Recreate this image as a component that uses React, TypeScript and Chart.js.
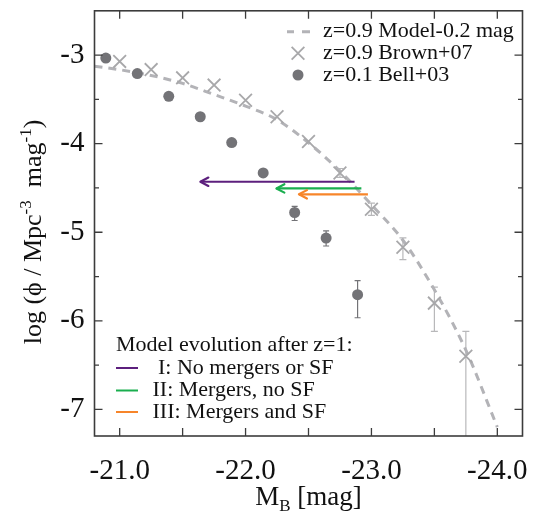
import React, { useEffect, useRef } from "react";
import { Chart, registerables } from "chart.js";
Chart.register(...registerables);

// ---- Data ----
const modelMag = [-20.8, -21.0, -21.25, -21.5, -21.75, -22.0, -22.25, -22.5, -22.75, -23.0, -23.25, -23.5, -23.75, -24.0];
const modelPhi = [-3.125, -3.165, -3.23, -3.32, -3.445, -3.575, -3.73, -3.99, -4.31, -4.69, -5.09, -5.65, -6.33, -7.2];

const brownMag = [-21.0, -21.25, -21.5, -21.75, -22.0, -22.25, -22.5, -22.75, -23.0, -23.25, -23.5, -23.75];
const brownPhi = [-3.071, -3.164, -3.257, -3.339, -3.51, -3.696, -3.976, -4.33, -4.74, -5.17, -5.8, -6.4];
const brownErrHi = [0, 0, 0, 0, 0, 0, 0, 0.05, 0.07, 0.106, 0.18, 0.28];
const brownErrLo = [0, 0, 0, 0, 0, 0, 0, 0.05, 0.07, 0.14, 0.32, 1.3];

const bellMag = [-20.89, -21.14, -21.39, -21.64, -21.89, -22.14, -22.39, -22.64, -22.89];
const bellPhi = [-3.034, -3.209, -3.466, -3.696, -3.987, -4.33, -4.777, -5.065, -5.705];
const bellErrHi = [0, 0, 0, 0, 0, 0, 0.07, 0.08, 0.16];
const bellErrLo = [0, 0, 0, 0, 0, 0, 0.09, 0.09, 0.26];

const arrowFrom = [-22.866, -22.92, -22.972];
const arrowTo = [-21.641, -22.245, -22.424];
const arrowPhi = [-4.43, -4.505, -4.572];
const arrowLabels = ["I: No mergers or SF", "II: Mergers, no SF", "III: Mergers and SF"];
const arrowColors = ["#5c1f7d", "#1aae4f", "#f7852a"];

const xTickVals = [-21.0, -21.5, -22.0, -22.5, -23.0, -23.5, -24.0];
const yTickVals = [-7.0, -6.5, -6.0, -5.5, -5.0, -4.5, -4.0, -3.5, -3.0];

const legendLabels = ["z=0.9 Model-0.2 mag", "z=0.9 Brown+07", "z=0.1 Bell+03"];
const lowerLegendTitle = "Model evolution after z=1:";

const FONT = '"Liberation Serif", "Times New Roman", Times, serif';
const MODEL_COLOR = "#b3b3b7";
const BROWN_COLOR = "#a8a8aa";
const BELL_COLOR = "#737377";
const FRAME_COLOR = "#3c3c3c";
const CROSS_R = 9;

const decorPlugin = {
  id: "decor",
  beforeDatasetsDraw(chart: any) {
    const { ctx, chartArea: a, scales } = chart;
    const x = scales.x, y = scales.y;
    ctx.save();
    ctx.beginPath();
    ctx.rect(a.left, a.top, a.right - a.left, a.bottom - a.top);
    ctx.clip();
    const drawErr = (mags: number[], phis: number[], hi: number[], lo: number[], color: string, cap: number) => {
      ctx.strokeStyle = color;
      ctx.lineWidth = 1.2;
      mags.forEach((m, i) => {
        if (!hi[i] && !lo[i]) return;
        const px = x.getPixelForValue(m);
        const pt = y.getPixelForValue(phis[i] + hi[i]);
        const pb = y.getPixelForValue(phis[i] - lo[i]);
        ctx.beginPath();
        ctx.moveTo(px, pt);
        ctx.lineTo(px, pb);
        ctx.moveTo(px - cap, pt);
        ctx.lineTo(px + cap, pt);
        ctx.moveTo(px - cap, pb);
        ctx.lineTo(px + cap, pb);
        ctx.stroke();
      });
    };
    drawErr(brownMag, brownPhi, brownErrHi, brownErrLo, "#b8b8ba", 3.5);
    drawErr(bellMag, bellPhi, bellErrHi, bellErrLo, BELL_COLOR, 3);
    ctx.restore();
  },
  afterDatasetsDraw(chart: any) {
    const { ctx, scales } = chart;
    const x = scales.x, y = scales.y;
    ctx.save();
    arrowTo.forEach((m, i) => {
      const px = x.getPixelForValue(m);
      const py = y.getPixelForValue(arrowPhi[i]);
      ctx.strokeStyle = arrowColors[i];
      ctx.lineWidth = 2.2;
      ctx.lineCap = "round";
      ctx.lineJoin = "round";
      ctx.beginPath();
      ctx.moveTo(px + 8, py - 4.2);
      ctx.lineTo(px, py);
      ctx.lineTo(px + 8, py + 4.2);
      ctx.stroke();
    });
    ctx.restore();
  },
  afterDraw(chart: any) {
    const { ctx, chartArea: a, scales } = chart;
    const x = scales.x, y = scales.y;
    ctx.save();
    // frame
    ctx.strokeStyle = FRAME_COLOR;
    ctx.lineWidth = 1.6;
    ctx.strokeRect(a.left, a.top, a.right - a.left, a.bottom - a.top);
    // ticks (inward, mirrored)
    ctx.lineWidth = 1.3;
    ctx.beginPath();
    xTickVals.forEach((v) => {
      const px = x.getPixelForValue(v);
      ctx.moveTo(px, a.bottom);
      ctx.lineTo(px, a.bottom - 8);
      ctx.moveTo(px, a.top);
      ctx.lineTo(px, a.top + 8);
    });
    yTickVals.forEach((v) => {
      const py = y.getPixelForValue(v);
      const len = Number.isInteger(v) ? 8 : 4.5;
      ctx.moveTo(a.left, py);
      ctx.lineTo(a.left + len, py);
      ctx.moveTo(a.right, py);
      ctx.lineTo(a.right - len, py);
    });
    ctx.stroke();

    // upper legend
    ctx.font = `22px ${FONT}`;
    ctx.fillStyle = "#111";
    ctx.textBaseline = "middle";
    ctx.textAlign = "left";
    const lx = 323, rows = [31.7, 53.3, 75];
    legendLabels.forEach((t, i) => ctx.fillText(t, lx, rows[i]));
    // dashed sample
    ctx.strokeStyle = MODEL_COLOR;
    ctx.lineWidth = 3;
    ctx.beginPath();
    ctx.moveTo(287, rows[0]); ctx.lineTo(294, rows[0]);
    ctx.moveTo(302, rows[0]); ctx.lineTo(310, rows[0]);
    ctx.stroke();
    // cross sample
    ctx.strokeStyle = BROWN_COLOR;
    ctx.lineWidth = 1.8;
    const cs = CROSS_R * Math.SQRT1_2;
    ctx.beginPath();
    ctx.moveTo(298 - cs, rows[1] - cs); ctx.lineTo(298 + cs, rows[1] + cs);
    ctx.moveTo(298 - cs, rows[1] + cs); ctx.lineTo(298 + cs, rows[1] - cs);
    ctx.stroke();
    // circle sample
    ctx.fillStyle = BELL_COLOR;
    ctx.beginPath();
    ctx.arc(298, rows[2], 5.5, 0, Math.PI * 2);
    ctx.fill();

    // lower legend
    ctx.fillStyle = "#111";
    ctx.fillText(lowerLegendTitle, 116, 345);
    const lrows = [368, 390.5, 412];
    arrowLabels.forEach((t, i) => {
      ctx.strokeStyle = arrowColors[i];
      ctx.lineWidth = 2;
      ctx.beginPath();
      ctx.moveTo(116, lrows[i]);
      ctx.lineTo(138, lrows[i]);
      ctx.stroke();
      ctx.fillStyle = "#111";
      ctx.fillText(t, i === 0 ? 158 : 152.5, lrows[i]);
    });

    // y title (rotated, with superscripts)
    const base = 26, sup = 17;
    const parts: [string, boolean][] = [["log (\u03d5 / Mpc", false], ["-3", true], ["  mag", false], ["-1", true], [")", false]];
    const widths = parts.map(([t, s]) => {
      ctx.font = `${s ? sup : base}px ${FONT}`;
      return ctx.measureText(t).width;
    });
    const total = widths.reduce((p, c) => p + c, 0);
    ctx.save();
    ctx.translate(41, 232);
    ctx.rotate(-Math.PI / 2);
    ctx.textBaseline = "alphabetic";
    ctx.fillStyle = "#111";
    let cx = -total / 2;
    parts.forEach(([t, s], i) => {
      ctx.font = `${s ? sup : base}px ${FONT}`;
      ctx.fillText(t, cx, s ? -10 : 0);
      cx += widths[i];
    });
    ctx.restore();

    // x title with subscript
    const xparts: [string, boolean][] = [["M", false], ["B", true], [" [mag]", false]];
    const xw = xparts.map(([t, s]) => {
      ctx.font = `${s ? 17 : 27}px ${FONT}`;
      return ctx.measureText(t).width;
    });
    const xt = xw.reduce((p, c) => p + c, 0);
    let xx = (a.left + a.right) / 2 - xt / 2;
    ctx.textBaseline = "alphabetic";
    xparts.forEach(([t, s], i) => {
      ctx.font = `${s ? 17 : 27}px ${FONT}`;
      ctx.fillText(t, xx, s ? 511 : 505);
      xx += xw[i];
    });
    ctx.restore();
  },
};

const zeroPad = (s: any) => {
  s.paddingLeft = 0;
  s.paddingRight = 0;
  s.paddingTop = 0;
  s.paddingBottom = 0;
};

export default function App() {
  const ref = useRef<HTMLCanvasElement | null>(null);
  useEffect(() => {
    if (!ref.current) return;
    const datasets: any[] = [
      {
        label: legendLabels[0],
        data: modelMag.map((m, i) => ({ x: m, y: modelPhi[i] })),
        showLine: true,
        borderColor: MODEL_COLOR,
        borderWidth: 3,
        borderDash: [8, 6],
        pointRadius: 0,
        cubicInterpolationMode: "monotone",
        order: 5,
      },
      {
        label: legendLabels[1],
        data: brownMag.map((m, i) => ({ x: m, y: brownPhi[i] })),
        showLine: false,
        pointStyle: "crossRot",
        pointRadius: CROSS_R,
        borderColor: BROWN_COLOR,
        backgroundColor: BROWN_COLOR,
        borderWidth: 1.8,
        order: 3,
      },
      {
        label: legendLabels[2],
        data: bellMag.map((m, i) => ({ x: m, y: bellPhi[i] })),
        showLine: false,
        pointStyle: "circle",
        pointRadius: 5.5,
        borderWidth: 0,
        backgroundColor: BELL_COLOR,
        borderColor: BELL_COLOR,
        order: 2,
      },
      ...arrowFrom.map((m, i) => ({
        label: arrowLabels[i],
        data: [
          { x: m, y: arrowPhi[i] },
          { x: arrowTo[i], y: arrowPhi[i] },
        ],
        showLine: true,
        borderColor: arrowColors[i],
        borderWidth: 2.2,
        pointRadius: 0,
        order: 0,
      })),
    ];
    const chart = new Chart(ref.current, {
      type: "scatter",
      data: { datasets },
      plugins: [decorPlugin],
      options: {
        animation: false,
        responsive: false,
        events: [],
        layout: { padding: { top: 6, right: 14.5, left: 0, bottom: 0 } },
        plugins: { legend: { display: false }, tooltip: { enabled: false } },
        scales: {
          x: {
            type: "linear",
            reverse: true,
            min: -24.2,
            max: -20.8,
            grid: { display: false, drawTicks: false },
            border: { display: false },
            afterBuildTicks: (s: any) => {
              s.ticks = xTickVals.map((v) => ({ value: v }));
            },
            afterFit: (s: any) => {
              s.height = 78;
              zeroPad(s);
            },
            ticks: {
              autoSkip: false,
              maxRotation: 0,
              padding: 18,
              color: "#111",
              font: { family: FONT, size: 29 },
              callback: (v: any) => (Number.isInteger(v) ? Number(v).toFixed(1) : ""),
            },
          },
          y: {
            type: "linear",
            min: -7.3,
            max: -2.5,
            grid: { display: false, drawTicks: false },
            border: { display: false },
            afterBuildTicks: (s: any) => {
              s.ticks = yTickVals.map((v) => ({ value: v }));
            },
            afterFit: (s: any) => {
              s.width = 94.5;
              zeroPad(s);
            },
            ticks: {
              autoSkip: false,
              padding: 10,
              color: "#111",
              font: { family: FONT, size: 29 },
              callback: (v: any) => (Number.isInteger(v) ? String(v) : ""),
            },
          },
        },
      } as any,
    });
    return () => chart.destroy();
  }, []);
  return (
    <div style={{ position: "fixed", left: 0, top: 0, width: 537, height: 514, background: "#fff" }}>
      <canvas ref={ref} width={537} height={514} style={{ width: 537, height: 514, display: "block" }} />
    </div>
  );
}
